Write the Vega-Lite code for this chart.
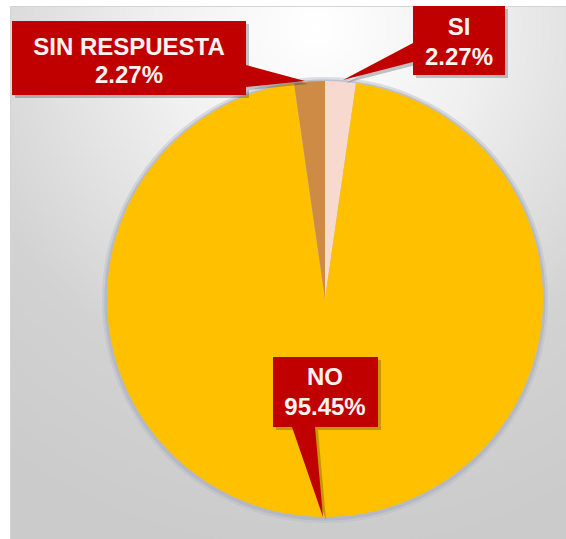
{
  "$schema": "https://vega.github.io/schema/vega-lite/v6.json",
  "width": 566,
  "height": 539,
  "autosize": {"type": "fit", "contains": "padding"},
  "padding": {"left": 10, "top": 6, "right": 0, "bottom": 0},
  "background": "#ffffff",
  "view": {
    "stroke": "#d4d4d4",
    "fill": {
      "gradient": "radial",
      "x1": 0.55, "y1": 0.06, "r1": 0,
      "x2": 0.55, "y2": 0.06, "r2": 0.95,
      "stops": [
        {"offset": 0, "color": "#ffffff"},
        {"offset": 0.3, "color": "#f0f0f0"},
        {"offset": 0.7, "color": "#d2d2d2"},
        {"offset": 1, "color": "#cbcbcb"}
      ]
    }
  },
  "data": {
    "values": [
      {"categoria": "SI", "porcentaje": 2.27},
      {"categoria": "NO", "porcentaje": 95.45},
      {"categoria": "SIN RESPUESTA", "porcentaje": 2.27}
    ]
  },
  "transform": [
    {"window": [{"op": "row_number", "as": "orden"}]},
    {"calculate": "datum.categoria + '\\n' + format(datum.porcentaje, '.2f') + '%'", "as": "etiqueta"}
  ],
  "layer": [
    {
      "mark": {"type": "arc", "x": 315, "y": 294, "radius": 223, "fill": "#b8bac8", "opacity": 0.18},
      "encoding": {}
    },
    {
      "mark": {"type": "arc", "x": 315, "y": 294, "radius": 220.5, "fill": "#b0b2c0", "opacity": 0.3},
      "encoding": {}
    },
    {
      "mark": {"type": "arc", "x": 315, "y": 293, "radius": 218, "stroke": null},
      "encoding": {
        "theta": {"field": "porcentaje", "type": "quantitative", "stack": true},
        "order": {"field": "orden", "type": "quantitative"},
        "color": {
          "field": "categoria",
          "type": "nominal",
          "scale": {"domain": ["SI", "NO", "SIN RESPUESTA"], "range": ["#F8D9CF", "#FFC000", "#CD8B45"]},
          "legend": null
        }
      }
    },
    {
      "mark": {"type": "point", "x": 318, "y": 296, "size": 4, "filled": true, "opacity": 0.22, "color": "#000000", "strokeWidth": 0},
      "encoding": {
        "shape": {
          "field": "categoria",
          "type": "nominal",
          "scale": {
            "domain": ["SI", "NO", "SIN RESPUESTA"],
            "range": [
              "M88,-293H180V-224H88V-237L18,-219L88,-256Z",
              "M-52,58H53V128H-10L-2,218L-33,128H-52Z",
              "M-313,-278H-79V-234L-20,-218L-79,-212V-204H-313Z"
            ]
          },
          "legend": null
        }
      }
    },
    {
      "mark": {"type": "point", "x": 315, "y": 293, "size": 4, "filled": true, "opacity": 1, "color": "#C00000", "strokeWidth": 0},
      "encoding": {
        "shape": {
          "field": "categoria",
          "type": "nominal",
          "scale": {
            "domain": ["SI", "NO", "SIN RESPUESTA"],
            "range": [
              "M88,-293H180V-224H88V-237L18,-219L88,-256Z",
              "M-52,58H53V128H-10L-2,218L-33,128H-52Z",
              "M-313,-278H-79V-234L-20,-218L-79,-212V-204H-313Z"
            ]
          },
          "legend": null
        }
      }
    },
    {
      "transform": [{"filter": "datum.categoria === 'SI'"}],
      "mark": {"type": "text", "x": 449, "y": 29, "align": "center", "baseline": "alphabetic", "lineBreak": "\n", "lineHeight": 30, "font": "Liberation Sans", "fontSize": 24, "fontWeight": "bold", "color": "#FFF2F0"},
      "encoding": {"text": {"field": "etiqueta"}}
    },
    {
      "transform": [{"filter": "datum.categoria === 'NO'"}],
      "mark": {"type": "text", "x": 315, "y": 379, "align": "center", "baseline": "alphabetic", "lineBreak": "\n", "lineHeight": 30, "font": "Liberation Sans", "fontSize": 24, "fontWeight": "bold", "color": "#FFF2F0"},
      "encoding": {"text": {"field": "etiqueta"}}
    },
    {
      "transform": [{"filter": "datum.categoria === 'SIN RESPUESTA'"}],
      "mark": {"type": "text", "x": 119, "y": 49, "align": "center", "baseline": "alphabetic", "lineBreak": "\n", "lineHeight": 28, "font": "Liberation Sans", "fontSize": 24, "fontWeight": "bold", "color": "#FFF2F0"},
      "encoding": {"text": {"field": "etiqueta"}}
    }
  ]
}
